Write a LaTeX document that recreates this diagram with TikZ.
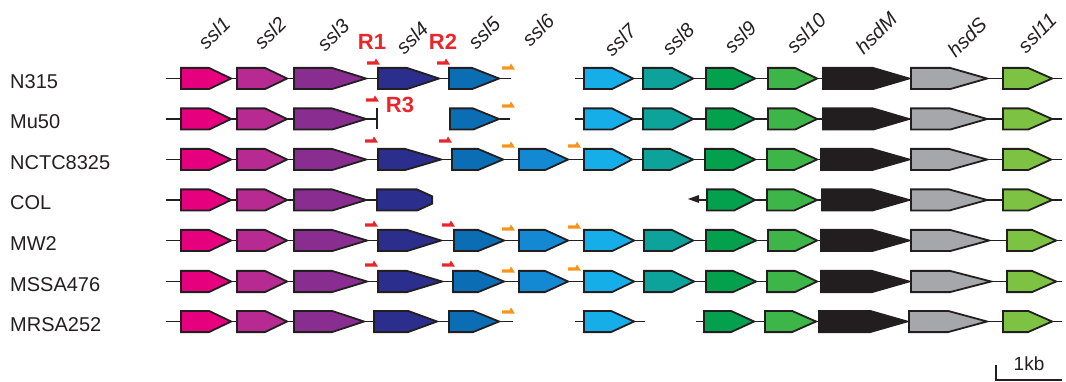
\documentclass[tikz,border=0pt]{standalone}
\usepackage{fontspec}
\setmainfont{Liberation Sans}
\usetikzlibrary{arrows.meta}
\definecolor{cA}{HTML}{E6007E}
\definecolor{cB}{HTML}{B72A91}
\definecolor{cC}{HTML}{8A2D90}
\definecolor{cD}{HTML}{2B2E8C}
\definecolor{cE}{HTML}{0B6EB5}
\definecolor{cF}{HTML}{1289D2}
\definecolor{cG}{HTML}{16AEE8}
\definecolor{cH}{HTML}{0DA39B}
\definecolor{cI}{HTML}{03A14E}
\definecolor{cJ}{HTML}{3DB549}
\definecolor{cK}{HTML}{221E1F}
\definecolor{cL}{HTML}{A5A7AA}
\definecolor{cM}{HTML}{7DC242}
\definecolor{ink}{HTML}{231F20}
\definecolor{pred}{HTML}{E8262B}
\definecolor{porange}{HTML}{F7941D}
\newcommand{\gn}[5]{\filldraw[gene,fill=#5] (#1+0.9,#4-10.6) -- (#2,#4-10.6) -- (#3-0.9,#4) -- (#2,#4+10.6) -- (#1+0.9,#4+10.6) -- cycle;}
\newcommand{\prom}[3]{\fill[#3] (#1,#2+1.7) -- (#1+13,#2+1.7) -- (#1+9,#2-4.5) -- (#1+7.5,#2-1.7) -- (#1,#2-1.7) -- cycle;}
\newcommand{\leftgenes}[2]{\gn{180}{209}{232}{#1}{cA}\gn{236}{265}{288}{#1}{cB}\gn{293}{332}{#2}{#1}{cC}}
\begin{document}
\begin{tikzpicture}[x=1pt,y=-1pt,
  gene/.style={draw=ink,line width=1.8pt,line join=miter},
  bb/.style={draw=ink,line width=1.8pt},
  strain/.style={anchor=west,inner sep=0pt,font=\fontsize{20}{20}\selectfont,text=ink},
  glab/.style={rotate=45,inner sep=0pt,font=\fontsize{20}{20}\selectfont\itshape,text=ink},
  rlab/.style={inner sep=0pt,font=\fontsize{22}{22}\selectfont\bfseries,text=pred}]
\useasboundingbox (0,0) rectangle (1066,382);
% gene labels
\node[glab] (l1) at (214,33) {ssl1};
\node[glab] (l2) at (270,33) {ssl2};
\node[glab] (l3) at (333,35) {ssl3};
\node[glab] (l4) at (412,38) {ssl4};
\node[glab] (l5) at (484,33) {ssl5};
\node[glab] (l6) at (538,30) {ssl6};
\node[glab] (l7) at (620,40) {ssl7};
\node[glab] (l8) at (678,39) {ssl8};
\node[glab] (l9) at (740,37) {ssl9};
\node[glab] (l10) at (806,33) {ssl10};
\node[glab] (lM) at (876,33) {hsdM};
\node[glab] (lS) at (967,37) {hsdS};
\node[glab] (l11) at (1037,33) {ssl11};
% strain labels
\node[strain] (s1) at (10,81.5) {N315};
\node[strain] (s2) at (10,122) {Mu50};
\node[strain] (s3) at (10,162.5) {NCTC8325};
\node[strain] (s4) at (10,203) {COL};
\node[strain] (s5) at (10,243.5) {MW2};
\node[strain] (s6) at (10,284.5) {MSSA476};
\node[strain] (s7) at (10,324.5) {MRSA252};
% R labels
\node[rlab] (R1) at (372,42) {R1};
\node[rlab] (R2) at (443,42) {R2};
\node[rlab] (R3) at (400,105) {R3};
% ---- N315
\draw[bb] (166,78.5) -- (511,78.5);
\draw[bb] (575,78.5) -- (1062,78.5);
\leftgenes{78.5}{367}
\gn{377}{407}{440}{78.5}{cD}
\gn{448}{472}{500}{78.5}{cE}
\gn{583}{612}{634}{78.5}{cG}
\gn{642}{672}{694}{78.5}{cH}
\gn{705}{733}{756}{78.5}{cI}
\gn{767}{795}{818}{78.5}{cJ}
\gn{822}{873}{910}{78.5}{cK}
\gn{910}{950}{988}{78.5}{cL}
\gn{1002}{1028}{1053}{78.5}{cM}
\prom{367}{63}{pred}
\prom{437}{63}{pred}
\prom{502}{68}{porange}
% ---- Mu50
\draw[bb] (166,119) -- (377,119);
\draw[bb] (377,108) -- (377,129);
\leftgenes{119}{367}
\draw[bb] (500,119) -- (510,119);
\gn{449}{473}{500}{119}{cE}
\draw[bb] (575,119) -- (1062,119);
\gn{583}{612}{634}{119}{cG}
\gn{642}{672}{694}{119}{cH}
\gn{705}{733}{756}{119}{cI}
\gn{767}{795}{818}{119}{cJ}
\gn{822}{873}{910}{119}{cK}
\gn{910}{950}{988}{119}{cL}
\gn{1002}{1028}{1053}{119}{cM}
\prom{366}{100}{pred}
\prom{502}{106}{porange}
% ---- NCTC8325
\draw[bb] (166,159.5) -- (1062,159.5);
\leftgenes{159.5}{367}
\gn{377}{405}{442}{159.5}{cD}
\gn{451}{478}{504}{159.5}{cE}
\gn{518}{545}{569}{159.5}{cF}
\gn{583}{612}{633}{159.5}{cG}
\gn{642}{670}{694}{159.5}{cH}
\gn{704}{733}{756}{159.5}{cI}
\gn{766}{794}{818}{159.5}{cJ}
\gn{820}{872}{910}{159.5}{cK}
\gn{910}{949}{988}{159.5}{cL}
\gn{1002}{1028}{1052}{159.5}{cM}
\prom{365}{141}{pred}
\prom{439}{141}{pred}
\prom{502}{146}{porange}
\prom{568}{146}{porange}
% ---- COL
\draw[bb] (166,200) -- (377,200);
\leftgenes{200}{367}
\filldraw[gene,fill=cD] (376.9,189.4) -- (417,189.4) -- (432.1,196.3) -- (432.1,203.7) -- (417,210.6) -- (376.9,210.6) -- cycle;
\draw[bb] (697,200) -- (1062,200);
\fill[ink] (688,199) -- (699,195) -- (699,203) -- cycle;
\gn{706}{734}{756}{200}{cI}
\gn{766}{794}{818}{200}{cJ}
\gn{821}{872}{910}{200}{cK}
\gn{910}{949}{988}{200}{cL}
\gn{1002}{1028}{1053}{200}{cM}
% ---- MW2
\draw[bb] (166,240.5) -- (1062,240.5);
\leftgenes{240.5}{368}
\gn{377}{407}{442}{240.5}{cD}
\gn{453}{478}{505}{240.5}{cE}
\gn{518}{545}{569}{240.5}{cF}
\gn{583}{612}{635}{240.5}{cG}
\gn{643}{672}{694}{240.5}{cH}
\gn{705}{733}{757}{240.5}{cI}
\gn{767}{795}{818}{240.5}{cJ}
\gn{820}{872}{910}{240.5}{cK}
\gn{910}{950}{990}{240.5}{cL}
\gn{1006}{1032}{1057}{240.5}{cM}
\prom{365}{225}{pred}
\prom{442}{225}{pred}
\prom{502}{229}{porange}
\prom{568}{227}{porange}
% ---- MSSA476
\draw[bb] (166,281.5) -- (1062,281.5);
\leftgenes{281.5}{368}
\gn{377}{407}{443}{281.5}{cD}
\gn{452}{478}{505}{281.5}{cE}
\gn{518}{545}{569}{281.5}{cF}
\gn{583}{612}{635}{281.5}{cG}
\gn{643}{672}{695}{281.5}{cH}
\gn{705}{733}{757}{281.5}{cI}
\gn{766}{795}{818}{281.5}{cJ}
\gn{820}{872}{910}{281.5}{cK}
\gn{910}{950}{992}{281.5}{cL}
\gn{1006}{1032}{1057}{281.5}{cM}
\prom{365}{265}{pred}
\prom{442}{265}{pred}
\prom{502}{271}{porange}
\prom{568}{269}{porange}
% ---- MRSA252
\draw[bb] (166,321.5) -- (513,321.5);
\leftgenes{321.5}{365}
\gn{373}{408}{438}{321.5}{cD}
\gn{448}{473}{500}{321.5}{cE}
\prom{502}{312}{porange}
\draw[bb] (575,321.5) -- (645,321.5);
\gn{583}{611}{635}{321.5}{cG}
\draw[bb] (696,321.5) -- (1062,321.5);
\gn{703}{731}{755}{321.5}{cI}
\gn{764}{792}{817}{321.5}{cJ}
\gn{818}{870}{908}{321.5}{cK}
\gn{908}{948}{988}{321.5}{cL}
\gn{1002}{1028}{1053}{321.5}{cM}
% scale bar
\coordinate (sbA) at (996,365);
\coordinate (sbB) at (996,380);
\coordinate (sbC) at (1062,380);
\draw[draw=ink,line width=1.2pt] (sbA) -- (sbB) -- (sbC);
\node[inner sep=0pt,font=\fontsize{19}{19}\selectfont,text=ink] (kb) at (1029,364) {1kb};
\end{tikzpicture}
\end{document}
